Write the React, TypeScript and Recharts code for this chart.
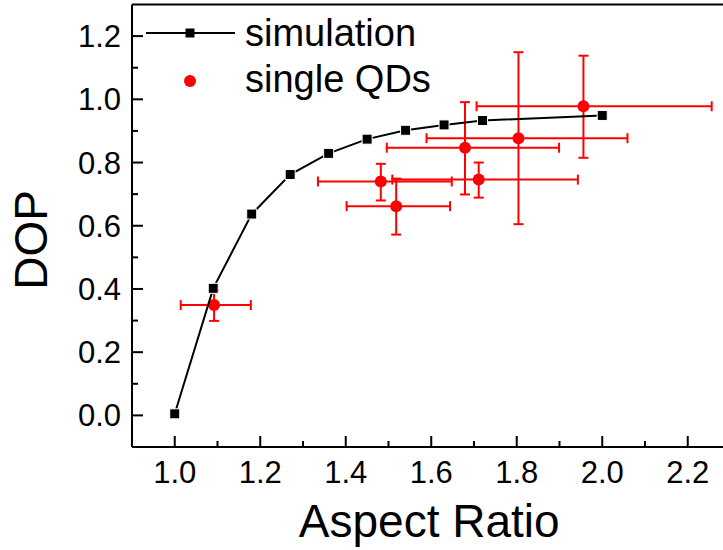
import React from 'react';
import { ScatterChart, Scatter, XAxis, YAxis, ErrorBar, ReferenceLine, Legend } from 'recharts';

const simX = [1.0, 1.09, 1.18, 1.27, 1.36, 1.45, 1.54, 1.63, 1.72, 2.0];
const simY = [0.005, 0.402, 0.637, 0.762, 0.829, 0.874, 0.902, 0.919, 0.933, 0.949];

const qdX = [1.092, 1.482, 1.518, 1.679, 1.711, 1.804, 1.956];
const qdY = [0.349, 0.740, 0.662, 0.847, 0.746, 0.877, 0.978];
const qdXErr = [[0.078, 0.086], [0.147, 0.166], [0.116, 0.126], [0.183, 0.22], [0.202, 0.232], [0.215, 0.255], [0.25, 0.3]];
const qdYErr = [[0.05, 0.047], [0.06, 0.056], [0.09, 0.087], [0.148, 0.144], [0.057, 0.054], [0.272, 0.272], [0.163, 0.16]];

const xTicks = [1.0, 1.1, 1.2, 1.3, 1.4, 1.5, 1.6, 1.7, 1.8, 1.9, 2.0, 2.1, 2.2];
const yTicks = [0.0, 0.1, 0.2, 0.3, 0.4, 0.5, 0.6, 0.7, 0.8, 0.9, 1.0, 1.1, 1.2];

const FONT = '"Liberation Sans", Arial, sans-serif';

const simData = simX.map((x, i) => ({ x, y: simY[i] }));
const qdData = qdX.map((x, i) => ({ x, y: qdY[i], xErr: qdXErr[i], yErr: qdYErr[i] }));

const isMajor = (v: number) => Math.round(v * 10) % 2 === 0;

const XTick = (props: any) => {
  const { x, y, payload } = props;
  const v = payload.value as number;
  const major = isMajor(v);
  const len = major ? 11 : 6;
  return (
    <g>
      <rect x={x - 1} y={y - len} width={2} height={len} fill="#000" stroke="none" />
      {major && (
        <text x={x} y={y + 36} textAnchor="middle" fontSize={31} fontFamily={FONT} fill="#000" stroke="none">
          {v.toFixed(1)}
        </text>
      )}
    </g>
  );
};

const YTick = (props: any) => {
  const { x, y, payload } = props;
  const v = payload.value as number;
  const major = isMajor(v);
  const len = major ? 11 : 6;
  return (
    <g>
      <rect x={x} y={y - 1} width={len} height={2} fill="#000" stroke="none" />
      {major && (
        <text x={x - 11} y={y + 11} textAnchor="end" fontSize={31} fontFamily={FONT} fill="#000" stroke="none">
          {v.toFixed(1)}
        </text>
      )}
    </g>
  );
};

const Square = (props: any) => {
  const { cx, cy } = props;
  return <rect x={cx - 5} y={cy - 5} width={10} height={10} fill="#000" stroke="#fff" strokeWidth={1} />;
};

const Dot = (props: any) => {
  const { cx, cy } = props;
  return <circle cx={cx} cy={cy} r={6} fill="#ff0000" />;
};

const LegendBox = () => (
  <svg width={340} height={110} style={{ display: 'block' }}>
    <line x1={6} y1={33} x2={95} y2={33} stroke="#000" strokeWidth={2} />
    <rect x={45.5} y={28.5} width={9} height={9} fill="#000" />
    <text x={105} y={46} fontSize={38} fontFamily={FONT} fill="#000">simulation</text>
    <circle cx={50} cy={81} r={6} fill="#ff0000" />
    <text x={105} y={92} fontSize={38} fontFamily={FONT} fill="#000">single QDs</text>
  </svg>
);

const XLabel = (props: any) => {
  const vb = props.viewBox || {};
  const cx = (vb.x || 0) + (vb.width || 0) / 2;
  return (
    <text x={cx - 2} y={537} textAnchor="middle" fontSize={46} fontFamily={FONT} fill="#000">
      Aspect Ratio
    </text>
  );
};

const YLabel = () => (
  <text x={47} y={240} transform="rotate(-90 47 240)" textAnchor="middle" fontSize={46} fontFamily={FONT} fill="#000">
    DOP
  </text>
);

export default function App() {
  return (
    <div style={{ position: 'absolute', left: 0, top: 0, width: 723, height: 550, overflow: 'hidden', background: '#fff' }}>
      <ScatterChart width={740} height={550} margin={{ top: 4.5, right: 9.5, bottom: 0, left: 0 }}>
        <XAxis
          type="number"
          dataKey="x"
          domain={[0.9, 2.3]}
          ticks={xTicks}
          interval={0}
          tickSize={0}
          tickMargin={0}
          tick={XTick}
          tickLine={false}
          axisLine={{ stroke: '#000', strokeWidth: 2 }}
          height={103}
          allowDataOverflow
          label={XLabel}
        />
        <YAxis
          type="number"
          dataKey="y"
          domain={[-0.1, 1.3]}
          ticks={yTicks}
          interval={0}
          tickSize={0}
          tickMargin={0}
          tick={YTick}
          tickLine={false}
          axisLine={{ stroke: '#000', strokeWidth: 2 }}
          width={132}
          allowDataOverflow
          label={YLabel}
        />
        <ReferenceLine y={1.3} stroke="#000" strokeWidth={2} />
        <Legend
          layout="vertical"
          align="center"
          verticalAlign="middle"
          wrapperStyle={{ left: 140, top: 0, width: 340, height: 110 }}
          content={LegendBox}
        />
        <Scatter name="single QDs" data={qdData} fill="#ff0000" shape={Dot} isAnimationActive={false}>
          <ErrorBar dataKey="xErr" direction="x" stroke="#ff0000" strokeWidth={2} width={5} isAnimationActive={false} />
          <ErrorBar dataKey="yErr" direction="y" stroke="#ff0000" strokeWidth={2} width={5} isAnimationActive={false} />
        </Scatter>
        <Scatter
          name="simulation"
          data={simData}
          fill="#000"
          shape={Square}
          line={{ stroke: '#000', strokeWidth: 2 }}
          lineType="joint"
          isAnimationActive={false}
        />
      </ScatterChart>
    </div>
  );
}
